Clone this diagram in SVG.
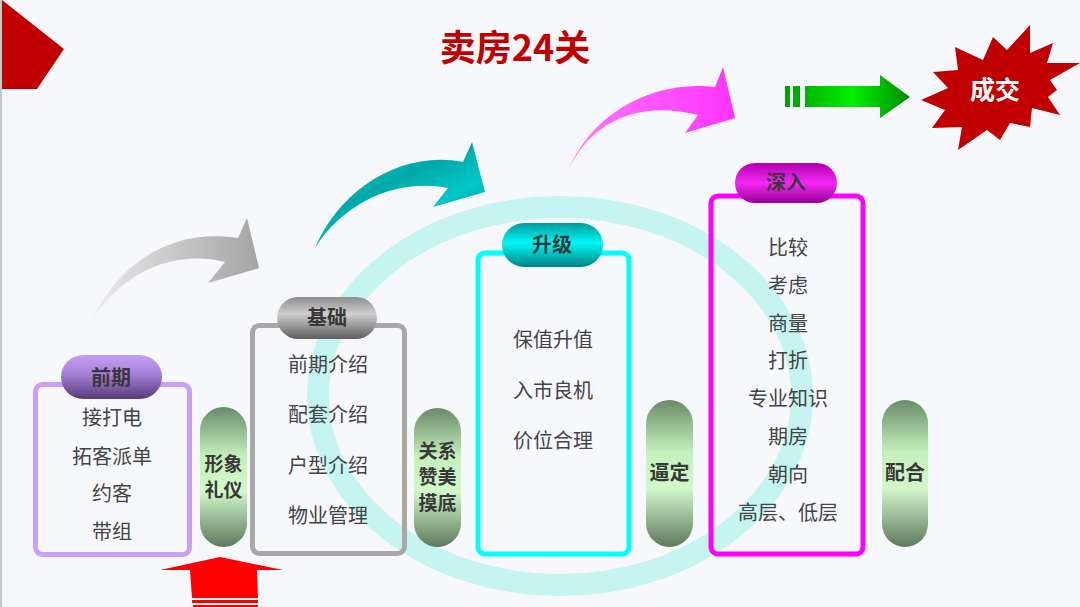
<svg xmlns="http://www.w3.org/2000/svg" width="1080" height="607" viewBox="0 0 1080 607">
<defs>
<linearGradient id="gPill" x1="0" y1="0" x2="0" y2="1">
<stop offset="0" stop-color="#6a8a68"/><stop offset="0.35" stop-color="#c4f0bc"/><stop offset="0.6" stop-color="#d2f8ca"/><stop offset="1" stop-color="#5c7a5c"/>
</linearGradient>
<linearGradient id="gPurple" x1="0" y1="0" x2="0" y2="1">
<stop offset="0" stop-color="#c4a0f2"/><stop offset="0.45" stop-color="#a47ed8"/><stop offset="1" stop-color="#573a76"/>
</linearGradient>
<linearGradient id="gGray" x1="0" y1="0" x2="0" y2="1">
<stop offset="0" stop-color="#8c8c8c"/><stop offset="0.4" stop-color="#cfcfcf"/><stop offset="1" stop-color="#5e5e5e"/>
</linearGradient>
<linearGradient id="gCyan" x1="0" y1="0" x2="0" y2="1">
<stop offset="0" stop-color="#009c9c"/><stop offset="0.45" stop-color="#00f6f6"/><stop offset="1" stop-color="#008484"/>
</linearGradient>
<linearGradient id="gMag" x1="0" y1="0" x2="0" y2="1">
<stop offset="0" stop-color="#b000b0"/><stop offset="0.5" stop-color="#f428f4"/><stop offset="1" stop-color="#980098"/>
</linearGradient>
<linearGradient id="gArrGray" x1="0" y1="0" x2="1" y2="0">
<stop offset="0" stop-color="#ececec"/><stop offset="1" stop-color="#a4a4a4"/>
</linearGradient>
<linearGradient id="gArrTeal" x1="0" y1="0" x2="0.8" y2="1">
<stop offset="0" stop-color="#10e0dc"/><stop offset="0.45" stop-color="#00a8a8"/><stop offset="0.7" stop-color="#00c8c8"/><stop offset="1" stop-color="#007c7c"/>
</linearGradient>
<linearGradient id="gArrPink" x1="0" y1="0" x2="1" y2="0">
<stop offset="0" stop-color="#ff7aff"/><stop offset="1" stop-color="#ff33ff"/>
</linearGradient>
<linearGradient id="gGreen" x1="0" y1="0" x2="1" y2="0">
<stop offset="0" stop-color="#00b400"/><stop offset="0.45" stop-color="#00f000"/><stop offset="1" stop-color="#008a00"/>
</linearGradient>
<style>
.item{font-family:"Noto Sans CJK SC","Noto Sans",sans-serif;font-size:20px;fill:#444;text-anchor:middle}
.hd{font-family:"Noto Sans CJK SC","Noto Sans",sans-serif;font-size:20px;font-weight:bold;fill:#383838;text-anchor:middle}
.pt{font-family:"Noto Sans CJK SC","Noto Sans",sans-serif;font-size:19px;font-weight:bold;fill:#383838;text-anchor:middle}
.box{fill:none;stroke-width:5}
</style>
</defs>
<rect width="1080" height="607" fill="#f7f8fc"/>
<rect x="0" y="0" width="2" height="607" fill="#c8c8c8"/>
<polygon points="2,0 64,49 37,89 2,89" fill="#c00000"/>
<text x="515" y="61" font-family="'Noto Sans CJK SC','Liberation Sans',sans-serif" font-size="36" font-weight="bold" fill="#c00000" text-anchor="middle">卖房24关</text>
<ellipse cx="560" cy="396" rx="242" ry="189" fill="none" stroke="#c6f5f1" stroke-width="22"/>
<g id="connectors">
<path d="M92,320 C120,260 175,228 238,238 L247,218 L259,268 L208,283 L225,262 C175,250 125,270 92,320 Z" fill="url(#gArrGray)"/>
<path d="M315,248 C340,190 400,150 463,162 L472,142 L485,192 L433,207 L448,188 C400,178 345,200 315,248 Z" fill="url(#gArrTeal)"/>
<path d="M567,173 C590,115 650,80 715,87 L723,67 L735,118 L685,133 L698,115 C640,100 590,120 567,173 Z" fill="url(#gArrPink)"/>
<g id="green-arrow">
<rect x="785" y="86" width="5" height="21" fill="#00a000"/>
<rect x="793" y="86" width="7" height="21" fill="#00a800"/>
<polygon points="805,86 880,86 880,75 910,97 880,118 880,107 805,107" fill="url(#gGreen)"/>
</g>
<g id="red-arrow">
<polygon points="160,570 220,557 283,570 257,570 258,598 192,598 190,570" fill="#ff0000"/>
<rect x="192" y="600" width="66" height="3" fill="#ff0000"/>
<rect x="193" y="605" width="65" height="2" fill="#ff0000"/>
</g>
</g>
<g id="deal">
<polygon points="955,47 983,60 993,37 1007,50 1030,25 1030,53 1053,43 1047,63 1080,63 1050,80 1057,90 1048,97 1060,115 1032,108 1030,127 1010,123 1000,140 987,130 958,150 962,127 932,128 945,110 921,100 948,88 933,72 958,70" fill="#c00000"/>
<text x="995" y="99" font-family="'Noto Sans CJK SC',sans-serif" font-size="25" font-weight="bold" fill="#ffffff" text-anchor="middle">成交</text>
</g>
<g id="qianqi">
<rect class="box" x="35.5" y="384.5" width="154" height="170" rx="7" stroke="#c9a0f8"/>
<rect x="61" y="355" width="101" height="44" rx="22" fill="url(#gPurple)"/>
<text class="hd" x="111" y="385">前期</text>
<text class="item" x="112" y="425">接打电</text>
<text class="item" x="112" y="464">拓客派单</text>
<text class="item" x="112" y="501">约客</text>
<text class="item" x="112" y="539">带组</text>
</g>
<g id="xingxiang">
<rect x="200" y="407" width="47" height="140" rx="23.5" fill="url(#gPill)"/>
<text class="pt" x="223.5" y="471">形象</text>
<text class="pt" x="223.5" y="497">礼仪</text>
</g>
<g id="jichu">
<rect class="box" x="252.5" y="325.5" width="152" height="228" rx="7" stroke="#a8a8a8"/>
<rect x="277" y="297" width="100" height="42" rx="21" fill="url(#gGray)"/>
<text class="hd" x="327" y="325">基础</text>
<text class="item" x="328" y="372">前期介绍</text>
<text class="item" x="328" y="422">配套介绍</text>
<text class="item" x="328" y="473">户型介绍</text>
<text class="item" x="328" y="523">物业管理</text>
</g>
<g id="guanxi">
<rect x="414" y="408" width="47" height="139" rx="23.5" fill="url(#gPill)"/>
<text class="pt" x="437.5" y="458">关系</text>
<text class="pt" x="437.5" y="484">赞美</text>
<text class="pt" x="437.5" y="510">摸底</text>
</g>
<g id="shengji">
<rect class="box" x="478" y="253" width="151" height="301" rx="7" stroke="#00ffff" stroke-width="6"/>
<rect x="502" y="223" width="101" height="44" rx="22" fill="url(#gCyan)"/>
<text class="hd" x="552" y="252">升级</text>
<text class="item" x="553" y="347">保值升值</text>
<text class="item" x="553" y="398">入市良机</text>
<text class="item" x="553" y="448">价位合理</text>
</g>
<g id="biding">
<rect x="646" y="400" width="47" height="147" rx="23.5" fill="url(#gPill)"/>
<text class="hd" x="669.5" y="480">逼定</text>
</g>
<g id="shenru">
<rect class="box" x="711" y="196" width="152" height="358" rx="7" stroke="#ff00ff" stroke-width="6"/>
<rect x="735" y="163" width="102" height="40" rx="20" fill="url(#gMag)"/>
<text class="hd" x="786" y="190">深入</text>
<text class="item" x="788" y="255">比较</text>
<text class="item" x="788" y="293">考虑</text>
<text class="item" x="788" y="331">商量</text>
<text class="item" x="788" y="368">打折</text>
<text class="item" x="788" y="406">专业知识</text>
<text class="item" x="788" y="444">期房</text>
<text class="item" x="788" y="482">朝向</text>
<text class="item" x="788" y="520">高层、低层</text>
</g>
<g id="peihe">
<rect x="882" y="400" width="46" height="147" rx="23" fill="url(#gPill)"/>
<text class="hd" x="905" y="480">配合</text>
</g>
</svg>
